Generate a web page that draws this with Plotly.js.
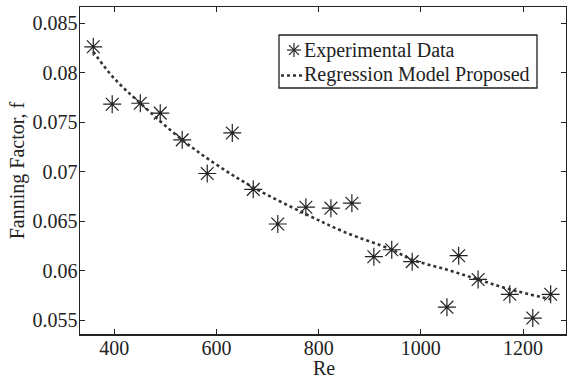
<!DOCTYPE html>
<html><head><meta charset="utf-8">
<script src="https://cdn.plot.ly/plotly-3.0.1.min.js"></script>
<style>html,body{margin:0;padding:0;background:#fff}#c{width:567px;height:379px}</style>
</head><body><div id="c"></div>
<script>
// Experimental data (Re, f)
var expRe = [359, 396, 451, 490, 533, 582, 631, 672, 720, 775, 824, 865, 908, 943, 983, 1051, 1074, 1112, 1174, 1219, 1254];
var expF  = [0.0826, 0.0768, 0.0769, 0.0759, 0.0732, 0.0698, 0.0739, 0.0682, 0.0647, 0.0664, 0.0663, 0.0668, 0.0614, 0.0621, 0.0609, 0.0563, 0.0615, 0.0591, 0.0576, 0.0552, 0.0576];
// Regression model curve
var modelRe = [359, 400, 451, 533, 600, 672, 775, 850, 943, 983, 1050, 1112, 1174, 1254];
var modelF  = [0.0821, 0.0794, 0.0769, 0.0732, 0.0707, 0.0684, 0.0657, 0.0639, 0.0621, 0.0611, 0.0601, 0.0591, 0.0581, 0.0571];
var seriesNames = ["Experimental Data", "Regression Model Proposed"];
var xTicks = [400, 600, 800, 1000, 1200];
var yTicks = [0.055, 0.06, 0.065, 0.07, 0.075, 0.08, 0.085];
var yTickText = ["0.055", "0.06", "0.065", "0.07", "0.075", "0.08", "0.085"];

var W = 567, H = 379, M = {l: 80, r: 1, t: 7, b: 45};
var pw = W - M.l - M.r, ph = H - M.t - M.b;
function px(x) { return (x - M.l) / pw; }
function py(y) { return 1 - (y - M.t) / ph; }

var font = {family: "'Liberation Serif', 'Times New Roman', serif", size: 20, color: "#222"};
var ink = "#222";
var traces = [
  {x: expRe, y: expF, mode: "markers", name: seriesNames[0],
   marker: {symbol: "asterisk-open", size: 15, color: ink, line: {width: 1.2, color: ink}}},
  {x: modelRe, y: modelF, mode: "lines", name: seriesNames[1],
   line: {shape: "spline", dash: "dot", width: 2.6, color: "#333"}}
];
var axisCommon = {showline: true, linecolor: ink, linewidth: 1.5, mirror: "ticks", ticks: "inside",
  ticklen: 5, tickcolor: ink, showgrid: false, zeroline: false, tickfont: font};

// legend glyphs (decoration)
var lc = {x: 294, y: 50, r: 7};
var d = lc.r * 0.7071;
var legendShapes = [
  {type: "rect", xref: "paper", yref: "paper", x0: px(279), x1: px(537), y0: py(35), y1: py(88),
   line: {color: ink, width: 1.3}, fillcolor: "#fff", layer: "above"},
  {type: "line", xref: "paper", yref: "paper", x0: px(281), x1: px(302), y0: py(75.5), y1: py(75.5),
   line: {color: "#333", width: 2.6, dash: "dot"}, layer: "above"}
];
[[lc.r, 0], [0, lc.r], [d, d], [d, -d]].forEach(function (v) {
  legendShapes.push({type: "line", xref: "paper", yref: "paper",
    x0: px(lc.x - v[0]), x1: px(lc.x + v[0]), y0: py(lc.y - v[1]), y1: py(lc.y + v[1]),
    line: {color: ink, width: 1.2}, layer: "above"});
});

var layout = {
  width: W, height: H,
  margin: M,
  paper_bgcolor: "#fff", plot_bgcolor: "#fff",
  font: font,
  showlegend: false,
  xaxis: Object.assign({}, axisCommon, {range: [333, 1284], tickvals: xTicks, ticklabelstandoff: -5}),
  yaxis: Object.assign({}, axisCommon, {range: [0.05359, 0.08662], tickvals: yTicks, ticktext: yTickText,
    ticklabelstandoff: -3, title: {text: "Fanning Factor, f", font: font, standoff: 2}}),
  shapes: legendShapes,
  annotations: [
    {text: "Re", xref: "paper", yref: "paper", x: px(324), y: py(368), xanchor: "center", yanchor: "middle",
     showarrow: false, font: font},
    {text: seriesNames[0], xref: "paper", yref: "paper", x: px(302), y: py(50), xanchor: "left", yanchor: "middle",
     showarrow: false, font: font},
    {text: seriesNames[1], xref: "paper", yref: "paper", x: px(302), y: py(75), xanchor: "left", yanchor: "middle",
     showarrow: false, font: font}
  ]
};
Plotly.newPlot("c", traces, layout, {displayModeBar: false, staticPlot: true});
</script></body></html>
